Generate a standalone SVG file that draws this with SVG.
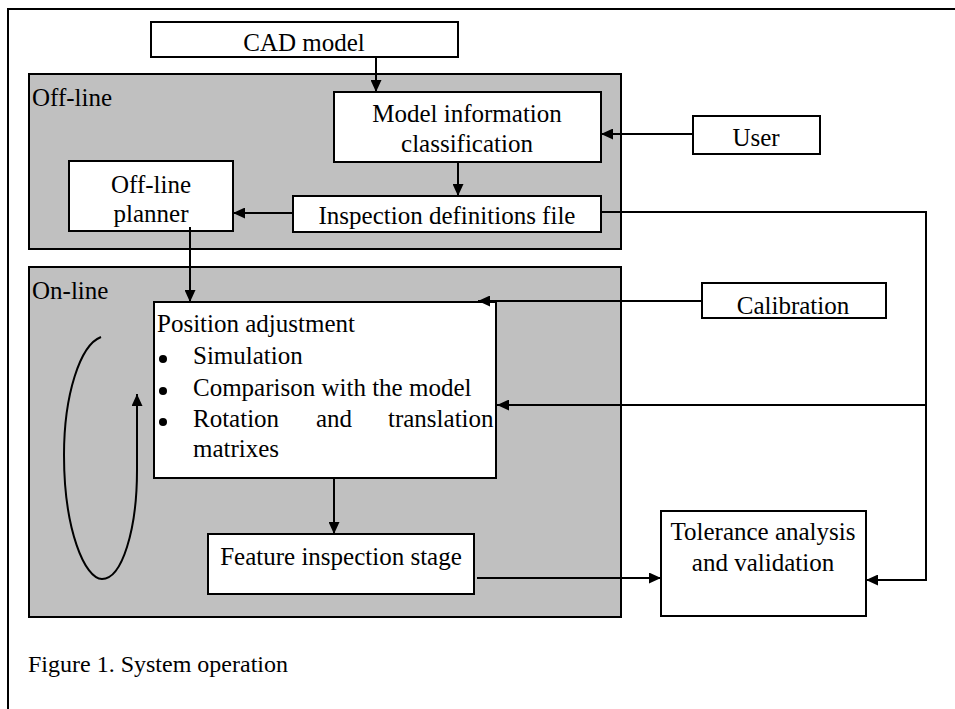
<svg xmlns="http://www.w3.org/2000/svg" width="955" height="709" viewBox="0 0 955 709">
<style>
.box{fill:#fff;stroke:#000;stroke-width:2}
.grp{fill:#c0c0c0;stroke:#000;stroke-width:2}
.t{font-family:"Liberation Serif","Times New Roman",serif;font-size:25px;fill:#000}
.c{text-anchor:middle}
.ln{fill:none;stroke:#000;stroke-width:2}
</style>
<defs>
<marker id="ah" markerUnits="userSpaceOnUse" markerWidth="12" markerHeight="11" refX="12" refY="5.5" orient="auto">
<path d="M0,0 L12,5.5 L0,11 z" fill="#000"/>
</marker>
</defs>
<rect x="8" y="9" width="960" height="712" fill="#fff" stroke="#000" stroke-width="2"/>

<g id="offline-group">
<rect class="grp" x="29" y="74" width="592" height="175"/>
<text class="t" x="32" y="106">Off-line</text>
</g>
<g id="online-group">
<rect class="grp" x="29" y="267" width="592" height="350"/>
<text class="t" x="32" y="299">On-line</text>
</g>

<g id="cad-model">
<rect class="box" x="151" y="22" width="307" height="35"/>
<text class="t c" x="304" y="51">CAD model</text>
</g>
<g id="model-info">
<rect class="box" x="334" y="92" width="267" height="70"/>
<text class="t c" x="467" y="122">Model information</text>
<text class="t c" x="467" y="152">classification</text>
</g>
<g id="user">
<rect class="box" x="693" y="116" width="127" height="38"/>
<text class="t c" x="756" y="146">User</text>
</g>
<g id="inspection-file">
<rect class="box" x="293" y="196" width="308" height="36"/>
<text class="t c" x="447" y="224">Inspection definitions file</text>
</g>
<g id="offline-planner">
<rect class="box" x="69" y="161" width="164" height="70"/>
<text class="t c" x="151" y="193">Off-line</text>
<text class="t c" x="151" y="222">planner</text>
</g>
<g id="position-adjustment">
<rect class="box" x="154" y="302" width="342" height="176"/>
<text class="t" x="157" y="332">Position adjustment</text>
<circle cx="163" cy="359" r="4"/>
<circle cx="163" cy="391" r="4"/>
<circle cx="163" cy="422" r="4"/>
<text class="t" x="193" y="364">Simulation</text>
<text class="t" x="193" y="396">Comparison with the model</text>
<text class="t" x="193" y="427">Rotation</text>
<text class="t" x="316" y="427">and</text>
<text class="t" x="388" y="427">translation</text>
<text class="t" x="193" y="457">matrixes</text>
</g>
<g id="calibration">
<rect class="box" x="702" y="283" width="184" height="35"/>
<text class="t c" x="793" y="314">Calibration</text>
</g>
<g id="feature-inspection">
<rect class="box" x="208" y="534" width="266" height="60"/>
<text class="t c" x="341" y="565">Feature inspection stage</text>
</g>
<g id="tolerance">
<rect class="box" x="661" y="511" width="205" height="105"/>
<text class="t c" x="763" y="540">Tolerance analysis</text>
<text class="t c" x="763" y="571">and validation</text>
</g>

<g id="connectors">
<path class="ln" d="M376,57 L376,92" marker-end="url(#ah)"/>
<path class="ln" d="M693,134 L601,134" marker-end="url(#ah)"/>
<path class="ln" d="M458,162 L458,196" marker-end="url(#ah)"/>
<path class="ln" d="M293,213 L233,213" marker-end="url(#ah)"/>
<path class="ln" d="M190,227 L190,302" marker-end="url(#ah)"/>
<path class="ln" d="M601,212 L926,212 L926,580 L866,580" marker-end="url(#ah)"/>
<path class="ln" d="M926,405 L497,405" marker-end="url(#ah)"/>
<path class="ln" d="M702,301 L478,301" marker-end="url(#ah)"/>
<path class="ln" d="M334,478 L334,534" marker-end="url(#ah)"/>
<path class="ln" d="M477,578 L661,578" marker-end="url(#ah)"/>
<path class="ln" d="M101,337 C80,345 64,395 64,455 C64,530 85,579 102,579 C122,579 137,530 137,470 L137,394" marker-end="url(#ah)"/>
</g>

<text class="t" x="28" y="672" style="font-size:24px">Figure 1. System operation</text>
</svg>
